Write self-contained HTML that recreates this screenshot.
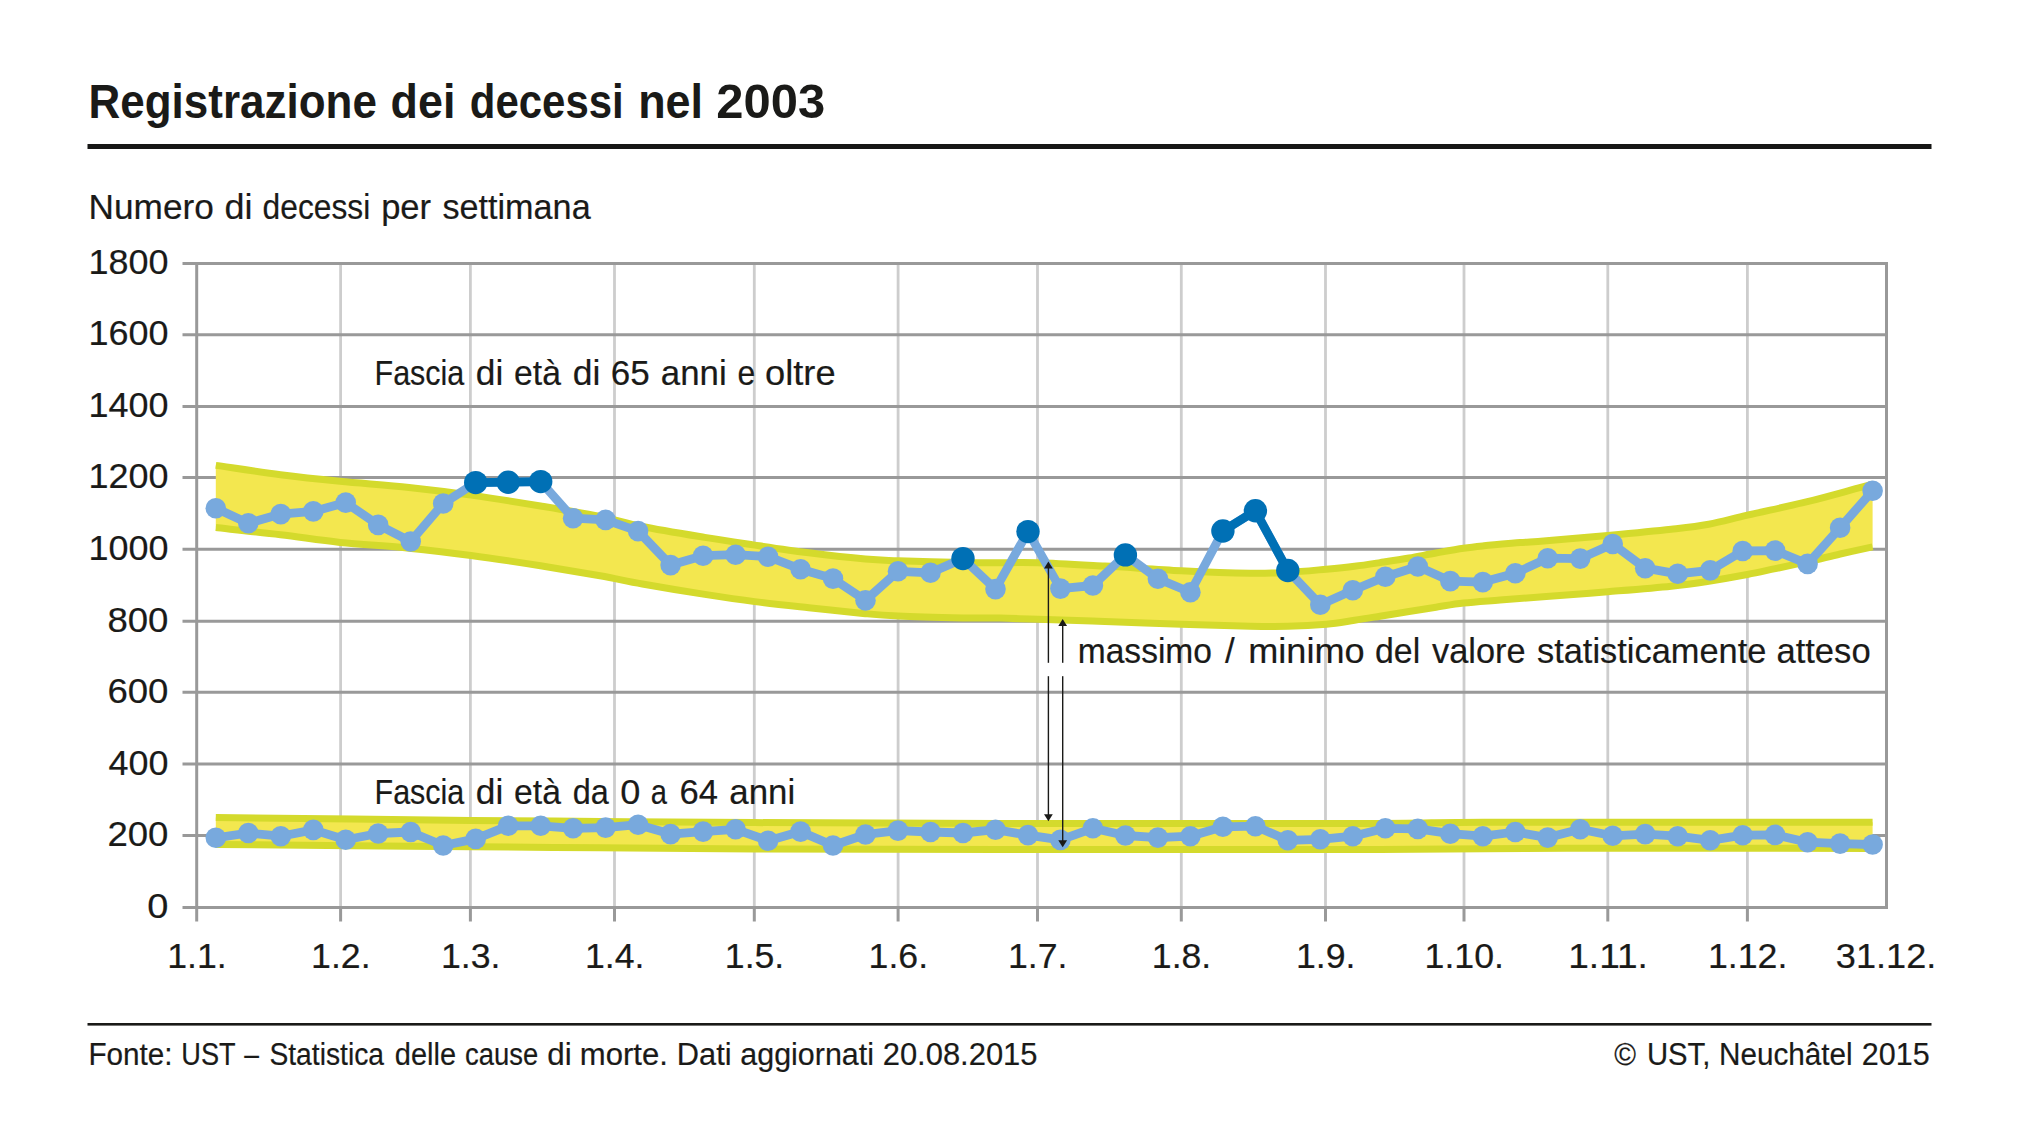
<!DOCTYPE html>
<html lang="it"><head><meta charset="utf-8"><title>Registrazione dei decessi nel 2003</title>
<style>html,body{margin:0;padding:0;background:#fff;}svg{display:block;}text{font-family:"Liberation Sans",sans-serif;fill:#1a1a18;stroke:#1a1a18;stroke-width:.2px;}text.b{stroke:none;}</style></head><body>
<svg width="2019" height="1141" viewBox="0 0 2019 1141">
<rect width="2019" height="1141" fill="#fff"/>
<text y="117.5" font-size="47.7" font-weight="bold" class="b"><tspan x="88.53" textLength="288.37" lengthAdjust="spacingAndGlyphs">Registrazione</tspan> <tspan x="390.56" textLength="64.80" lengthAdjust="spacingAndGlyphs">dei</tspan> <tspan x="469.82" textLength="153.94" lengthAdjust="spacingAndGlyphs">decessi</tspan> <tspan x="638.17" textLength="64.88" lengthAdjust="spacingAndGlyphs">nel</tspan> <tspan x="716.27" textLength="108.89" lengthAdjust="spacingAndGlyphs">2003</tspan></text>
<rect x="87.5" y="144" width="1844" height="5" fill="#161615"/>
<text y="219.3" font-size="35.2"><tspan x="88.60" textLength="125.27" lengthAdjust="spacingAndGlyphs">Numero</tspan> <tspan x="224.48" textLength="27.98" lengthAdjust="spacingAndGlyphs">di</tspan> <tspan x="262.60" textLength="107.64" lengthAdjust="spacingAndGlyphs">decessi</tspan> <tspan x="381.13" textLength="49.99" lengthAdjust="spacingAndGlyphs">per</tspan> <tspan x="442.40" textLength="148.28" lengthAdjust="spacingAndGlyphs">settimana</tspan></text>
<line x1="340.6" y1="263.5" x2="340.6" y2="907.5" stroke="#cdcdcd" stroke-width="2.8"/>
<line x1="470.4" y1="263.5" x2="470.4" y2="907.5" stroke="#cdcdcd" stroke-width="2.8"/>
<line x1="614.5" y1="263.5" x2="614.5" y2="907.5" stroke="#cdcdcd" stroke-width="2.8"/>
<line x1="754.3" y1="263.5" x2="754.3" y2="907.5" stroke="#cdcdcd" stroke-width="2.8"/>
<line x1="898.1" y1="263.5" x2="898.1" y2="907.5" stroke="#cdcdcd" stroke-width="2.8"/>
<line x1="1037.5" y1="263.5" x2="1037.5" y2="907.5" stroke="#cdcdcd" stroke-width="2.8"/>
<line x1="1181.3" y1="263.5" x2="1181.3" y2="907.5" stroke="#cdcdcd" stroke-width="2.8"/>
<line x1="1325.5" y1="263.5" x2="1325.5" y2="907.5" stroke="#cdcdcd" stroke-width="2.8"/>
<line x1="1464.0" y1="263.5" x2="1464.0" y2="907.5" stroke="#cdcdcd" stroke-width="2.8"/>
<line x1="1607.8" y1="263.5" x2="1607.8" y2="907.5" stroke="#cdcdcd" stroke-width="2.8"/>
<line x1="1747.4" y1="263.5" x2="1747.4" y2="907.5" stroke="#cdcdcd" stroke-width="2.8"/>
<line x1="182.5" y1="907.5" x2="1888.0" y2="907.5" stroke="#999999" stroke-width="3"/>
<line x1="182.5" y1="835.6" x2="1888.0" y2="835.6" stroke="#999999" stroke-width="3"/>
<line x1="182.5" y1="764.0" x2="1888.0" y2="764.0" stroke="#999999" stroke-width="3"/>
<line x1="182.5" y1="692.3" x2="1888.0" y2="692.3" stroke="#999999" stroke-width="3"/>
<line x1="182.5" y1="621.3" x2="1888.0" y2="621.3" stroke="#999999" stroke-width="3"/>
<line x1="182.5" y1="549.3" x2="1888.0" y2="549.3" stroke="#999999" stroke-width="3"/>
<line x1="182.5" y1="477.4" x2="1888.0" y2="477.4" stroke="#999999" stroke-width="3"/>
<line x1="182.5" y1="406.4" x2="1888.0" y2="406.4" stroke="#999999" stroke-width="3"/>
<line x1="182.5" y1="334.7" x2="1888.0" y2="334.7" stroke="#999999" stroke-width="3"/>
<line x1="182.5" y1="263.5" x2="1888.0" y2="263.5" stroke="#999999" stroke-width="3"/>
<line x1="196.7" y1="262.0" x2="196.7" y2="921.5" stroke="#999999" stroke-width="3"/>
<line x1="1886.5" y1="262.0" x2="1886.5" y2="909.0" stroke="#999999" stroke-width="3"/>
<line x1="340.6" y1="907.5" x2="340.6" y2="921.5" stroke="#999999" stroke-width="3"/>
<line x1="470.4" y1="907.5" x2="470.4" y2="921.5" stroke="#999999" stroke-width="3"/>
<line x1="614.5" y1="907.5" x2="614.5" y2="921.5" stroke="#999999" stroke-width="3"/>
<line x1="754.3" y1="907.5" x2="754.3" y2="921.5" stroke="#999999" stroke-width="3"/>
<line x1="898.1" y1="907.5" x2="898.1" y2="921.5" stroke="#999999" stroke-width="3"/>
<line x1="1037.5" y1="907.5" x2="1037.5" y2="921.5" stroke="#999999" stroke-width="3"/>
<line x1="1181.3" y1="907.5" x2="1181.3" y2="921.5" stroke="#999999" stroke-width="3"/>
<line x1="1325.5" y1="907.5" x2="1325.5" y2="921.5" stroke="#999999" stroke-width="3"/>
<line x1="1464.0" y1="907.5" x2="1464.0" y2="921.5" stroke="#999999" stroke-width="3"/>
<line x1="1607.8" y1="907.5" x2="1607.8" y2="921.5" stroke="#999999" stroke-width="3"/>
<line x1="1747.4" y1="907.5" x2="1747.4" y2="921.5" stroke="#999999" stroke-width="3"/>
<text x="147.39" y="918.1" font-size="34.2" textLength="21.14" lengthAdjust="spacingAndGlyphs">0</text>
<text x="107.43" y="846.2" font-size="34.2" textLength="61.06" lengthAdjust="spacingAndGlyphs">200</text>
<text x="108.50" y="774.6" font-size="34.2" textLength="59.97" lengthAdjust="spacingAndGlyphs">400</text>
<text x="107.43" y="702.9" font-size="34.2" textLength="61.06" lengthAdjust="spacingAndGlyphs">600</text>
<text x="107.43" y="631.9" font-size="34.2" textLength="61.06" lengthAdjust="spacingAndGlyphs">800</text>
<text x="88.50" y="559.9" font-size="34.2" textLength="79.97" lengthAdjust="spacingAndGlyphs">1000</text>
<text x="88.50" y="488.0" font-size="34.2" textLength="79.97" lengthAdjust="spacingAndGlyphs">1200</text>
<text x="88.50" y="417.0" font-size="34.2" textLength="79.97" lengthAdjust="spacingAndGlyphs">1400</text>
<text x="88.50" y="345.3" font-size="34.2" textLength="79.97" lengthAdjust="spacingAndGlyphs">1600</text>
<text x="88.50" y="274.1" font-size="34.2" textLength="79.97" lengthAdjust="spacingAndGlyphs">1800</text>
<text x="167.21" y="968.0" font-size="34.2" textLength="59.49" lengthAdjust="spacingAndGlyphs">1.1.</text>
<text x="311.11" y="968.0" font-size="34.2" textLength="59.49" lengthAdjust="spacingAndGlyphs">1.2.</text>
<text x="440.91" y="968.0" font-size="34.2" textLength="59.49" lengthAdjust="spacingAndGlyphs">1.3.</text>
<text x="585.01" y="968.0" font-size="34.2" textLength="59.49" lengthAdjust="spacingAndGlyphs">1.4.</text>
<text x="724.81" y="968.0" font-size="34.2" textLength="59.49" lengthAdjust="spacingAndGlyphs">1.5.</text>
<text x="868.61" y="968.0" font-size="34.2" textLength="59.49" lengthAdjust="spacingAndGlyphs">1.6.</text>
<text x="1008.01" y="968.0" font-size="34.2" textLength="59.49" lengthAdjust="spacingAndGlyphs">1.7.</text>
<text x="1151.81" y="968.0" font-size="34.2" textLength="59.49" lengthAdjust="spacingAndGlyphs">1.8.</text>
<text x="1296.01" y="968.0" font-size="34.2" textLength="59.49" lengthAdjust="spacingAndGlyphs">1.9.</text>
<text x="1424.51" y="968.0" font-size="34.2" textLength="79.50" lengthAdjust="spacingAndGlyphs">1.10.</text>
<text x="1568.23" y="968.0" font-size="34.2" textLength="79.68" lengthAdjust="spacingAndGlyphs">1.11.</text>
<text x="1707.91" y="968.0" font-size="34.2" textLength="79.50" lengthAdjust="spacingAndGlyphs">1.12.</text>
<text x="1835.89" y="968.0" font-size="34.2" textLength="100.40" lengthAdjust="spacingAndGlyphs">31.12.</text>
<path d="M215.8 465.4 C226.6 466.9 259.8 472.1 280.5 474.7 C301.2 477.3 318.6 479.1 340.0 481.2 C361.4 483.3 387.2 485.1 409.0 487.4 C430.8 489.7 449.1 492.0 471.0 495.1 C492.9 498.2 519.0 502.4 540.5 506.0 C562.0 509.6 583.1 513.1 600.0 516.5 C616.9 519.9 624.5 523.0 642.0 526.5 C659.5 530.0 686.0 534.3 704.8 537.4 C723.6 540.5 737.4 542.5 754.7 545.1 C772.0 547.7 790.3 550.5 808.8 552.8 C827.2 555.1 850.5 557.7 865.4 559.0 C880.3 560.3 882.0 560.1 898.3 560.7 C914.6 561.3 946.2 562.2 963.2 562.6 C980.2 563.0 987.6 562.8 1000.0 562.8 C1012.4 562.8 1020.3 562.2 1037.8 562.8 C1055.3 563.3 1080.9 564.8 1104.8 566.1 C1128.7 567.4 1157.1 569.5 1181.4 570.7 C1205.7 571.9 1232.7 572.9 1250.4 573.2 C1268.2 573.5 1275.2 573.1 1287.9 572.4 C1300.6 571.7 1315.3 570.2 1326.4 569.2 C1337.5 568.2 1345.6 567.4 1354.5 566.3 C1363.4 565.2 1370.9 564.0 1380.0 562.6 C1389.1 561.2 1399.7 559.6 1409.0 558.0 C1418.3 556.4 1426.9 554.6 1436.0 553.0 C1445.1 551.4 1455.6 549.5 1463.6 548.3 C1471.6 547.1 1474.6 546.8 1484.0 545.8 C1493.4 544.8 1509.6 543.5 1520.0 542.6 C1530.4 541.8 1531.8 541.9 1546.4 540.7 C1561.0 539.5 1587.0 537.4 1607.8 535.5 C1628.6 533.6 1654.4 531.2 1671.2 529.3 C1688.0 527.4 1696.0 526.6 1708.7 524.3 C1721.4 521.9 1731.1 519.0 1747.5 515.2 C1763.9 511.4 1788.9 506.2 1807.3 501.7 C1825.7 497.2 1846.9 491.1 1857.8 488.2 C1868.7 485.3 1870.1 484.9 1872.6 484.2 L1872.6 546.8 C1867.2 548.0 1851.1 551.5 1840.2 554.0 C1829.3 556.5 1818.1 559.4 1807.3 561.8 C1796.5 564.2 1785.4 566.5 1775.4 568.6 C1765.4 570.7 1758.4 572.4 1747.3 574.5 C1736.2 576.6 1721.4 579.2 1708.7 581.2 C1696.0 583.2 1688.0 584.5 1671.2 586.2 C1654.4 588.0 1628.6 590.0 1607.8 591.7 C1587.0 593.4 1564.4 595.2 1546.4 596.6 C1528.4 598.0 1513.8 598.9 1500.0 600.0 C1486.2 601.1 1474.3 601.8 1463.6 603.0 C1452.9 604.2 1445.1 605.8 1436.0 607.2 C1426.9 608.6 1418.3 610.0 1409.0 611.5 C1399.7 613.0 1389.1 614.7 1380.0 616.2 C1370.9 617.7 1363.4 619.0 1354.5 620.3 C1345.6 621.6 1337.5 623.2 1326.4 624.2 C1315.3 625.2 1300.6 626.0 1287.9 626.3 C1275.2 626.6 1268.2 626.5 1250.4 626.2 C1232.7 625.9 1205.7 625.1 1181.4 624.3 C1157.1 623.5 1128.7 622.2 1104.8 621.4 C1080.9 620.6 1055.3 619.8 1037.8 619.3 C1020.3 618.8 1012.4 618.3 1000.0 618.1 C987.6 617.9 980.2 618.2 963.2 617.9 C946.2 617.5 914.6 616.7 898.3 616.0 C882.0 615.3 880.3 615.1 865.4 613.7 C850.5 612.3 827.2 609.7 808.8 607.7 C790.3 605.7 772.0 603.8 754.7 601.6 C737.4 599.4 723.5 597.3 704.8 594.4 C686.1 591.5 659.9 587.1 642.4 584.0 C624.9 580.9 617.0 578.7 600.0 575.7 C583.0 572.7 562.0 569.2 540.5 565.8 C519.0 562.4 492.9 558.4 471.0 555.5 C449.1 552.6 430.8 550.4 409.0 548.2 C387.2 546.0 361.4 544.6 340.0 542.4 C318.6 540.1 301.2 537.2 280.5 534.7 C259.8 532.2 226.6 528.8 215.8 527.6 Z" fill="#f3e74f"/>
<path d="M215.8 465.4 C226.6 466.9 259.8 472.1 280.5 474.7 C301.2 477.3 318.6 479.1 340.0 481.2 C361.4 483.3 387.2 485.1 409.0 487.4 C430.8 489.7 449.1 492.0 471.0 495.1 C492.9 498.2 519.0 502.4 540.5 506.0 C562.0 509.6 583.1 513.1 600.0 516.5 C616.9 519.9 624.5 523.0 642.0 526.5 C659.5 530.0 686.0 534.3 704.8 537.4 C723.6 540.5 737.4 542.5 754.7 545.1 C772.0 547.7 790.3 550.5 808.8 552.8 C827.2 555.1 850.5 557.7 865.4 559.0 C880.3 560.3 882.0 560.1 898.3 560.7 C914.6 561.3 946.2 562.2 963.2 562.6 C980.2 563.0 987.6 562.8 1000.0 562.8 C1012.4 562.8 1020.3 562.2 1037.8 562.8 C1055.3 563.3 1080.9 564.8 1104.8 566.1 C1128.7 567.4 1157.1 569.5 1181.4 570.7 C1205.7 571.9 1232.7 572.9 1250.4 573.2 C1268.2 573.5 1275.2 573.1 1287.9 572.4 C1300.6 571.7 1315.3 570.2 1326.4 569.2 C1337.5 568.2 1345.6 567.4 1354.5 566.3 C1363.4 565.2 1370.9 564.0 1380.0 562.6 C1389.1 561.2 1399.7 559.6 1409.0 558.0 C1418.3 556.4 1426.9 554.6 1436.0 553.0 C1445.1 551.4 1455.6 549.5 1463.6 548.3 C1471.6 547.1 1474.6 546.8 1484.0 545.8 C1493.4 544.8 1509.6 543.5 1520.0 542.6 C1530.4 541.8 1531.8 541.9 1546.4 540.7 C1561.0 539.5 1587.0 537.4 1607.8 535.5 C1628.6 533.6 1654.4 531.2 1671.2 529.3 C1688.0 527.4 1696.0 526.6 1708.7 524.3 C1721.4 521.9 1731.1 519.0 1747.5 515.2 C1763.9 511.4 1788.9 506.2 1807.3 501.7 C1825.7 497.2 1846.9 491.1 1857.8 488.2 C1868.7 485.3 1870.1 484.9 1872.6 484.2" fill="none" stroke="#d4da2c" stroke-width="7"/>
<path d="M215.8 527.6 C226.6 528.8 259.8 532.2 280.5 534.7 C301.2 537.2 318.6 540.1 340.0 542.4 C361.4 544.6 387.2 546.0 409.0 548.2 C430.8 550.4 449.1 552.6 471.0 555.5 C492.9 558.4 519.0 562.4 540.5 565.8 C562.0 569.2 583.0 572.7 600.0 575.7 C617.0 578.7 624.9 580.9 642.4 584.0 C659.9 587.1 686.1 591.5 704.8 594.4 C723.5 597.3 737.4 599.4 754.7 601.6 C772.0 603.8 790.3 605.7 808.8 607.7 C827.2 609.7 850.5 612.3 865.4 613.7 C880.3 615.1 882.0 615.3 898.3 616.0 C914.6 616.7 946.2 617.5 963.2 617.9 C980.2 618.2 987.6 617.9 1000.0 618.1 C1012.4 618.3 1020.3 618.8 1037.8 619.3 C1055.3 619.8 1080.9 620.6 1104.8 621.4 C1128.7 622.2 1157.1 623.5 1181.4 624.3 C1205.7 625.1 1232.7 625.9 1250.4 626.2 C1268.2 626.5 1275.2 626.6 1287.9 626.3 C1300.6 626.0 1315.3 625.2 1326.4 624.2 C1337.5 623.2 1345.6 621.6 1354.5 620.3 C1363.4 619.0 1370.9 617.7 1380.0 616.2 C1389.1 614.7 1399.7 613.0 1409.0 611.5 C1418.3 610.0 1426.9 608.6 1436.0 607.2 C1445.1 605.8 1452.9 604.2 1463.6 603.0 C1474.3 601.8 1486.2 601.1 1500.0 600.0 C1513.8 598.9 1528.4 598.0 1546.4 596.6 C1564.4 595.2 1587.0 593.4 1607.8 591.7 C1628.6 590.0 1654.4 588.0 1671.2 586.2 C1688.0 584.5 1696.0 583.2 1708.7 581.2 C1721.4 579.2 1736.2 576.6 1747.3 574.5 C1758.4 572.4 1765.4 570.7 1775.4 568.6 C1785.4 566.5 1796.5 564.2 1807.3 561.8 C1818.1 559.4 1829.3 556.5 1840.2 554.0 C1851.1 551.5 1867.2 548.0 1872.6 546.8" fill="none" stroke="#d4da2c" stroke-width="7"/>
<path d="M215.8 817.5 C258.3 818.0 407.0 819.8 471.0 820.4 C535.0 821.0 552.7 821.0 600.0 821.4 C647.3 821.8 688.0 822.3 754.7 822.6 C821.4 822.9 895.8 823.3 1000.0 823.4 C1104.2 823.5 1299.3 823.6 1380.0 823.4 C1460.7 823.2 1401.9 822.5 1484.0 822.3 C1566.1 822.1 1807.8 822.3 1872.6 822.3 L1872.6 848.4 C1821.7 848.4 1649.1 848.1 1567.0 848.3 C1484.9 848.5 1474.5 849.2 1380.0 849.4 C1285.5 849.6 1104.2 849.5 1000.0 849.4 C895.8 849.3 821.4 849.2 754.7 848.9 C688.0 848.6 647.3 848.1 600.0 847.8 C552.7 847.4 535.0 847.3 471.0 846.8 C407.0 846.2 258.3 844.9 215.8 844.5 Z" fill="#f3e74f"/>
<path d="M215.8 817.5 C258.3 818.0 407.0 819.8 471.0 820.4 C535.0 821.0 552.7 821.0 600.0 821.4 C647.3 821.8 688.0 822.3 754.7 822.6 C821.4 822.9 895.8 823.3 1000.0 823.4 C1104.2 823.5 1299.3 823.6 1380.0 823.4 C1460.7 823.2 1401.9 822.5 1484.0 822.3 C1566.1 822.1 1807.8 822.3 1872.6 822.3" fill="none" stroke="#d4da2c" stroke-width="7"/>
<path d="M215.8 844.5 C258.3 844.9 407.0 846.2 471.0 846.8 C535.0 847.3 552.7 847.4 600.0 847.8 C647.3 848.1 688.0 848.6 754.7 848.9 C821.4 849.2 895.8 849.3 1000.0 849.4 C1104.2 849.5 1285.5 849.6 1380.0 849.4 C1474.5 849.2 1484.9 848.5 1567.0 848.3 C1649.1 848.1 1821.7 848.4 1872.6 848.4" fill="none" stroke="#d4da2c" stroke-width="7"/>
<path d="M215.8 837.8 L248.3 833.0 L280.8 836.2 L313.3 829.9 L345.7 839.7 L378.2 833.5 L410.7 832.0 L443.2 845.5 L475.7 838.9 L508.2 825.8 L540.7 825.8 L573.1 828.3 L605.6 827.6 L638.1 824.7 L670.6 834.1 L703.1 831.6 L735.6 829.3 L768.1 840.7 L800.6 831.6 L833.0 845.5 L865.5 834.5 L898.0 830.6 L930.5 832.0 L963.0 833.0 L995.5 829.7 L1028.0 835.1 L1060.4 839.9 L1092.9 828.3 L1125.4 835.5 L1157.9 837.6 L1190.4 836.2 L1222.9 826.8 L1255.4 826.2 L1287.8 840.3 L1320.3 839.3 L1352.8 836.2 L1385.3 828.3 L1417.8 828.9 L1450.3 833.7 L1482.8 836.2 L1515.3 832.0 L1547.7 837.6 L1580.2 829.3 L1612.7 835.8 L1645.2 834.1 L1677.7 836.2 L1710.2 840.3 L1742.7 835.2 L1775.1 834.9 L1807.6 842.2 L1840.1 843.6 L1872.6 844.5" fill="none" stroke="#78a9dd" stroke-width="8.8" stroke-linejoin="round"/>
<circle cx="215.8" cy="837.8" r="10.3" fill="#78a9dd"/>
<circle cx="248.3" cy="833.0" r="10.3" fill="#78a9dd"/>
<circle cx="280.8" cy="836.2" r="10.3" fill="#78a9dd"/>
<circle cx="313.3" cy="829.9" r="10.3" fill="#78a9dd"/>
<circle cx="345.7" cy="839.7" r="10.3" fill="#78a9dd"/>
<circle cx="378.2" cy="833.5" r="10.3" fill="#78a9dd"/>
<circle cx="410.7" cy="832.0" r="10.3" fill="#78a9dd"/>
<circle cx="443.2" cy="845.5" r="10.3" fill="#78a9dd"/>
<circle cx="475.7" cy="838.9" r="10.3" fill="#78a9dd"/>
<circle cx="508.2" cy="825.8" r="10.3" fill="#78a9dd"/>
<circle cx="540.7" cy="825.8" r="10.3" fill="#78a9dd"/>
<circle cx="573.1" cy="828.3" r="10.3" fill="#78a9dd"/>
<circle cx="605.6" cy="827.6" r="10.3" fill="#78a9dd"/>
<circle cx="638.1" cy="824.7" r="10.3" fill="#78a9dd"/>
<circle cx="670.6" cy="834.1" r="10.3" fill="#78a9dd"/>
<circle cx="703.1" cy="831.6" r="10.3" fill="#78a9dd"/>
<circle cx="735.6" cy="829.3" r="10.3" fill="#78a9dd"/>
<circle cx="768.1" cy="840.7" r="10.3" fill="#78a9dd"/>
<circle cx="800.6" cy="831.6" r="10.3" fill="#78a9dd"/>
<circle cx="833.0" cy="845.5" r="10.3" fill="#78a9dd"/>
<circle cx="865.5" cy="834.5" r="10.3" fill="#78a9dd"/>
<circle cx="898.0" cy="830.6" r="10.3" fill="#78a9dd"/>
<circle cx="930.5" cy="832.0" r="10.3" fill="#78a9dd"/>
<circle cx="963.0" cy="833.0" r="10.3" fill="#78a9dd"/>
<circle cx="995.5" cy="829.7" r="10.3" fill="#78a9dd"/>
<circle cx="1028.0" cy="835.1" r="10.3" fill="#78a9dd"/>
<circle cx="1060.4" cy="839.9" r="10.3" fill="#78a9dd"/>
<circle cx="1092.9" cy="828.3" r="10.3" fill="#78a9dd"/>
<circle cx="1125.4" cy="835.5" r="10.3" fill="#78a9dd"/>
<circle cx="1157.9" cy="837.6" r="10.3" fill="#78a9dd"/>
<circle cx="1190.4" cy="836.2" r="10.3" fill="#78a9dd"/>
<circle cx="1222.9" cy="826.8" r="10.3" fill="#78a9dd"/>
<circle cx="1255.4" cy="826.2" r="10.3" fill="#78a9dd"/>
<circle cx="1287.8" cy="840.3" r="10.3" fill="#78a9dd"/>
<circle cx="1320.3" cy="839.3" r="10.3" fill="#78a9dd"/>
<circle cx="1352.8" cy="836.2" r="10.3" fill="#78a9dd"/>
<circle cx="1385.3" cy="828.3" r="10.3" fill="#78a9dd"/>
<circle cx="1417.8" cy="828.9" r="10.3" fill="#78a9dd"/>
<circle cx="1450.3" cy="833.7" r="10.3" fill="#78a9dd"/>
<circle cx="1482.8" cy="836.2" r="10.3" fill="#78a9dd"/>
<circle cx="1515.3" cy="832.0" r="10.3" fill="#78a9dd"/>
<circle cx="1547.7" cy="837.6" r="10.3" fill="#78a9dd"/>
<circle cx="1580.2" cy="829.3" r="10.3" fill="#78a9dd"/>
<circle cx="1612.7" cy="835.8" r="10.3" fill="#78a9dd"/>
<circle cx="1645.2" cy="834.1" r="10.3" fill="#78a9dd"/>
<circle cx="1677.7" cy="836.2" r="10.3" fill="#78a9dd"/>
<circle cx="1710.2" cy="840.3" r="10.3" fill="#78a9dd"/>
<circle cx="1742.7" cy="835.2" r="10.3" fill="#78a9dd"/>
<circle cx="1775.1" cy="834.9" r="10.3" fill="#78a9dd"/>
<circle cx="1807.6" cy="842.2" r="10.3" fill="#78a9dd"/>
<circle cx="1840.1" cy="843.6" r="10.3" fill="#78a9dd"/>
<circle cx="1872.6" cy="844.5" r="10.3" fill="#78a9dd"/>
<path d="M215.8 508.2 L248.3 523.2 L280.8 514.1 L313.3 511.4 L345.7 502.6 L378.2 524.9 L410.7 541.5 L443.2 503.5 L475.7 482.6 L508.2 482.2 L540.7 481.6 L573.1 518.2 L605.6 519.9 L638.1 531.1 L670.6 565.1 L703.1 555.7 L735.6 554.7 L768.1 556.7 L800.6 569.2 L833.0 578.6 L865.5 600.4 L898.0 571.3 L930.5 572.8 L963.0 558.6 L995.5 589.1 L1028.0 531.6 L1060.4 588.6 L1092.9 585.5 L1125.4 554.9 L1157.9 578.8 L1190.4 592.3 L1222.9 531.0 L1255.4 510.8 L1287.8 570.5 L1320.3 604.8 L1352.8 590.3 L1385.3 576.8 L1417.8 566.5 L1450.3 581.1 L1482.8 582.1 L1515.3 573.2 L1547.7 558.2 L1580.2 558.6 L1612.7 544.0 L1645.2 568.2 L1677.7 573.8 L1710.2 570.4 L1742.7 551.0 L1775.1 550.6 L1807.6 563.9 L1840.1 527.7 L1872.6 490.8" fill="none" stroke="#78a9dd" stroke-width="8.8" stroke-linejoin="round"/>
<path d="M475.7 482.6 L508.2 482.2" fill="none" stroke="#0070b5" stroke-width="8.8" stroke-linecap="round"/>
<path d="M508.2 482.2 L540.7 481.6" fill="none" stroke="#0070b5" stroke-width="8.8" stroke-linecap="round"/>
<path d="M1222.9 531.0 L1255.4 510.8" fill="none" stroke="#0070b5" stroke-width="8.8" stroke-linecap="round"/>
<path d="M1255.4 510.8 L1287.8 570.5" fill="none" stroke="#0070b5" stroke-width="8.8" stroke-linecap="round"/>
<circle cx="215.8" cy="508.2" r="10.3" fill="#78a9dd"/>
<circle cx="248.3" cy="523.2" r="10.3" fill="#78a9dd"/>
<circle cx="280.8" cy="514.1" r="10.3" fill="#78a9dd"/>
<circle cx="313.3" cy="511.4" r="10.3" fill="#78a9dd"/>
<circle cx="345.7" cy="502.6" r="10.3" fill="#78a9dd"/>
<circle cx="378.2" cy="524.9" r="10.3" fill="#78a9dd"/>
<circle cx="410.7" cy="541.5" r="10.3" fill="#78a9dd"/>
<circle cx="443.2" cy="503.5" r="10.3" fill="#78a9dd"/>
<circle cx="573.1" cy="518.2" r="10.3" fill="#78a9dd"/>
<circle cx="605.6" cy="519.9" r="10.3" fill="#78a9dd"/>
<circle cx="638.1" cy="531.1" r="10.3" fill="#78a9dd"/>
<circle cx="670.6" cy="565.1" r="10.3" fill="#78a9dd"/>
<circle cx="703.1" cy="555.7" r="10.3" fill="#78a9dd"/>
<circle cx="735.6" cy="554.7" r="10.3" fill="#78a9dd"/>
<circle cx="768.1" cy="556.7" r="10.3" fill="#78a9dd"/>
<circle cx="800.6" cy="569.2" r="10.3" fill="#78a9dd"/>
<circle cx="833.0" cy="578.6" r="10.3" fill="#78a9dd"/>
<circle cx="865.5" cy="600.4" r="10.3" fill="#78a9dd"/>
<circle cx="898.0" cy="571.3" r="10.3" fill="#78a9dd"/>
<circle cx="930.5" cy="572.8" r="10.3" fill="#78a9dd"/>
<circle cx="995.5" cy="589.1" r="10.3" fill="#78a9dd"/>
<circle cx="1060.4" cy="588.6" r="10.3" fill="#78a9dd"/>
<circle cx="1092.9" cy="585.5" r="10.3" fill="#78a9dd"/>
<circle cx="1157.9" cy="578.8" r="10.3" fill="#78a9dd"/>
<circle cx="1190.4" cy="592.3" r="10.3" fill="#78a9dd"/>
<circle cx="1320.3" cy="604.8" r="10.3" fill="#78a9dd"/>
<circle cx="1352.8" cy="590.3" r="10.3" fill="#78a9dd"/>
<circle cx="1385.3" cy="576.8" r="10.3" fill="#78a9dd"/>
<circle cx="1417.8" cy="566.5" r="10.3" fill="#78a9dd"/>
<circle cx="1450.3" cy="581.1" r="10.3" fill="#78a9dd"/>
<circle cx="1482.8" cy="582.1" r="10.3" fill="#78a9dd"/>
<circle cx="1515.3" cy="573.2" r="10.3" fill="#78a9dd"/>
<circle cx="1547.7" cy="558.2" r="10.3" fill="#78a9dd"/>
<circle cx="1580.2" cy="558.6" r="10.3" fill="#78a9dd"/>
<circle cx="1612.7" cy="544.0" r="10.3" fill="#78a9dd"/>
<circle cx="1645.2" cy="568.2" r="10.3" fill="#78a9dd"/>
<circle cx="1677.7" cy="573.8" r="10.3" fill="#78a9dd"/>
<circle cx="1710.2" cy="570.4" r="10.3" fill="#78a9dd"/>
<circle cx="1742.7" cy="551.0" r="10.3" fill="#78a9dd"/>
<circle cx="1775.1" cy="550.6" r="10.3" fill="#78a9dd"/>
<circle cx="1807.6" cy="563.9" r="10.3" fill="#78a9dd"/>
<circle cx="1840.1" cy="527.7" r="10.3" fill="#78a9dd"/>
<circle cx="1872.6" cy="490.8" r="10.3" fill="#78a9dd"/>
<circle cx="475.7" cy="482.6" r="11.7" fill="#0070b5"/>
<circle cx="508.2" cy="482.2" r="11.7" fill="#0070b5"/>
<circle cx="540.7" cy="481.6" r="11.7" fill="#0070b5"/>
<circle cx="963.0" cy="558.6" r="11.7" fill="#0070b5"/>
<circle cx="1028.0" cy="531.6" r="11.7" fill="#0070b5"/>
<circle cx="1125.4" cy="554.9" r="11.7" fill="#0070b5"/>
<circle cx="1222.9" cy="531.0" r="11.7" fill="#0070b5"/>
<circle cx="1255.4" cy="510.8" r="11.7" fill="#0070b5"/>
<circle cx="1287.8" cy="570.5" r="11.7" fill="#0070b5"/>
<line x1="1048.4" y1="565.5" x2="1048.4" y2="817.3" stroke="#1a1a18" stroke-width="1.4"/>
<polygon points="1048.4,561.5 1044.0,568.5 1052.8,568.5" fill="#1a1a18"/>
<polygon points="1048.4,821.3 1044.0,814.3 1052.8,814.3" fill="#1a1a18"/>
<line x1="1062.7" y1="623.0" x2="1062.7" y2="843.3" stroke="#1a1a18" stroke-width="1.4"/>
<polygon points="1062.7,619.0 1058.3,626.0 1067.1,626.0" fill="#1a1a18"/>
<polygon points="1062.7,847.3 1058.3,840.3 1067.1,840.3" fill="#1a1a18"/>
<rect x="1044" y="662.8" width="24" height="13.4" fill="#fff"/>
<text y="385.2" font-size="35"><tspan x="374.56" textLength="89.78" lengthAdjust="spacingAndGlyphs">Fascia</tspan> <tspan x="475.79" textLength="27.50" lengthAdjust="spacingAndGlyphs">di</tspan> <tspan x="514.04" textLength="46.85" lengthAdjust="spacingAndGlyphs">età</tspan> <tspan x="572.89" textLength="27.61" lengthAdjust="spacingAndGlyphs">di</tspan> <tspan x="610.80" textLength="38.97" lengthAdjust="spacingAndGlyphs">65</tspan> <tspan x="660.80" textLength="65.86" lengthAdjust="spacingAndGlyphs">anni</tspan> <tspan x="737.49" textLength="17.75" lengthAdjust="spacingAndGlyphs">e</tspan> <tspan x="765.06" textLength="70.55" lengthAdjust="spacingAndGlyphs">oltre</tspan></text>
<text y="804.4" font-size="35"><tspan x="374.56" textLength="89.78" lengthAdjust="spacingAndGlyphs">Fascia</tspan> <tspan x="475.79" textLength="27.50" lengthAdjust="spacingAndGlyphs">di</tspan> <tspan x="514.04" textLength="46.85" lengthAdjust="spacingAndGlyphs">età</tspan> <tspan x="572.77" textLength="36.03" lengthAdjust="spacingAndGlyphs">da</tspan> <tspan x="620.17" textLength="20.11" lengthAdjust="spacingAndGlyphs">0</tspan> <tspan x="650.87" textLength="16.19" lengthAdjust="spacingAndGlyphs">a</tspan> <tspan x="679.41" textLength="38.45" lengthAdjust="spacingAndGlyphs">64</tspan> <tspan x="729.30" textLength="65.86" lengthAdjust="spacingAndGlyphs">anni</tspan></text>
<text y="662.7" font-size="35"><tspan x="1077.78" textLength="134.22" lengthAdjust="spacingAndGlyphs">massimo</tspan> <tspan x="1225.05" textLength="9.72" lengthAdjust="spacingAndGlyphs">/</tspan> <tspan x="1248.24" textLength="116.38" lengthAdjust="spacingAndGlyphs">minimo</tspan> <tspan x="1375.03" textLength="45.19" lengthAdjust="spacingAndGlyphs">del</tspan> <tspan x="1432.00" textLength="93.54" lengthAdjust="spacingAndGlyphs">valore</tspan> <tspan x="1537.00" textLength="229.34" lengthAdjust="spacingAndGlyphs">statisticamente</tspan> <tspan x="1776.41" textLength="94.24" lengthAdjust="spacingAndGlyphs">atteso</tspan></text>
<rect x="87.5" y="1023.0" width="1844" height="2.6" fill="#1a1a18"/>
<text y="1065.0" font-size="31"><tspan x="88.38" textLength="84.22" lengthAdjust="spacingAndGlyphs">Fonte:</tspan> <tspan x="181.26" textLength="53.88" lengthAdjust="spacingAndGlyphs">UST</tspan> <tspan x="244.20" textLength="14.75" lengthAdjust="spacingAndGlyphs">–</tspan> <tspan x="269.39" textLength="114.62" lengthAdjust="spacingAndGlyphs">Statistica</tspan> <tspan x="394.76" textLength="61.30" lengthAdjust="spacingAndGlyphs">delle</tspan> <tspan x="465.02" textLength="73.18" lengthAdjust="spacingAndGlyphs">cause</tspan> <tspan x="547.29" textLength="24.42" lengthAdjust="spacingAndGlyphs">di</tspan> <tspan x="579.79" textLength="88.13" lengthAdjust="spacingAndGlyphs">morte.</tspan> <tspan x="676.81" textLength="54.76" lengthAdjust="spacingAndGlyphs">Dati</tspan> <tspan x="740.32" textLength="133.63" lengthAdjust="spacingAndGlyphs">aggiornati</tspan> <tspan x="882.70" textLength="154.84" lengthAdjust="spacingAndGlyphs">20.08.2015</tspan></text>
<text y="1065.0" font-size="31"><tspan x="1614.30" textLength="21.75" lengthAdjust="spacingAndGlyphs">©</tspan> <tspan x="1646.91" textLength="63.35" lengthAdjust="spacingAndGlyphs">UST,</tspan> <tspan x="1718.98" textLength="133.72" lengthAdjust="spacingAndGlyphs">Neuchâtel</tspan> <tspan x="1861.72" textLength="67.91" lengthAdjust="spacingAndGlyphs">2015</tspan></text>
</svg></body></html>
